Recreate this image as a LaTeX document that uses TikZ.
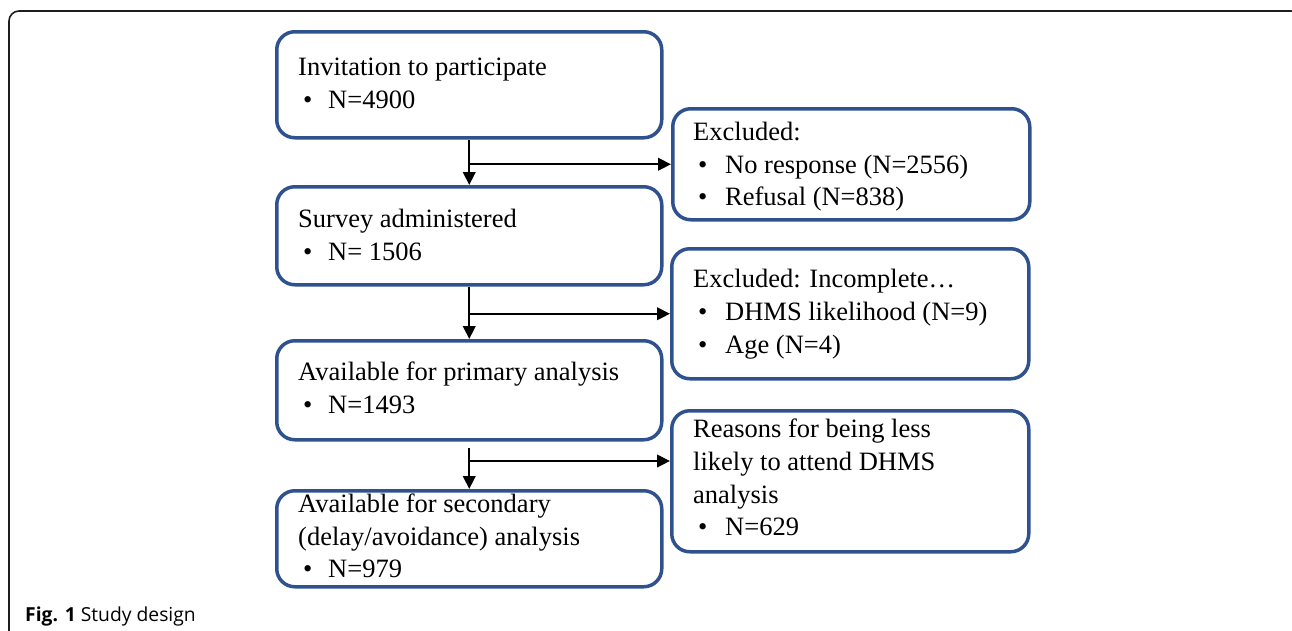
\documentclass[tikz,border=0pt]{standalone}
\usepackage{fontspec}
\setmainfont{Liberation Serif}
\newfontfamily\capfont{Open Sans}
\usetikzlibrary{arrows.meta,calc}
\definecolor{boxblue}{RGB}{47,82,143}
\definecolor{framecol}{RGB}{30,30,30}
\newcommand\bulA{\hspace*{5pt}\makebox[25pt][l]{\textbullet}}
\newcommand\bulB{\hspace*{5pt}\makebox[27pt][l]{\textbullet}}
\tikzset{
  box/.style={draw=boxblue, line width=3.5pt, rounded corners=18pt, rectangle,
    inner sep=0pt, anchor=north west, minimum width=#1},
  box/.default=385pt,
  txt/.style={anchor=base west, inner sep=0pt, font=\fontsize{26.5}{33}\selectfont},
  arr/.style={draw=black, line width=2.2pt, -{Triangle[length=13pt,width=12.5pt]}},
  framestyle/.style={draw=framecol, line width=1.6pt, rounded corners=10pt},
  captext/.style={anchor=base west, inner sep=0pt, font=\capfont\fontsize{19.3}{23}\selectfont}
}
\begin{document}
\begin{tikzpicture}[x=1pt,y=-1pt]
\useasboundingbox (0,0) rectangle (1292,630);
\clip (0,0) rectangle (1292,630);
\fill[white] (0,0) rectangle (1292,630);
\draw[framestyle] (9,660) |- (1301,11) -- (1301,660);

% left column boxes
\node[box, minimum height=106pt] (b1) at (275,30) {};
\node[box, minimum height=98pt] (b2) at (275,185) {};
\node[box, minimum height=99pt] (b3) at (275,339) {};
\node[box, minimum height=96pt] (b4) at (275,489) {};
% right column boxes
\node[box=357pt, minimum height=111pt] (r1) at (671,107) {};
\node[box=357pt, minimum height=130pt] (r2) at (670,247) {};
\node[box=357pt, minimum height=141pt] (r3) at (670,409) {};

% texts
\node[txt] (t1) at (298,75) {\parbox[t]{350pt}{Invitation to participate\\\bulA N=4900}};
\node[txt] (t2) at (298,227) {\parbox[t]{350pt}{Survey administered\\\bulA N= 1506}};
\node[txt] (t3) at (298,380) {\parbox[t]{350pt}{Available for primary analysis\\\bulA N=1493}};
\node[txt] (t4) at (298,512) {\parbox[t]{350pt}{Available for secondary\\(delay/avoidance) analysis\\[-1pt]\bulA N=979}};
\node[txt] (s1) at (693,140) {\parbox[t]{330pt}{Excluded:\\\bulB No response (N=2556)\\[-1pt]\bulB Refusal (N=838)}};
\node[txt] (s2) at (693,287) {\parbox[t]{330pt}{Excluded: Incomplete\ldots\\\bulB DHMS likelihood (N=9)\\\bulB Age (N=4)}};
\node[txt] (s3) at (693,437) {\parbox[t]{330pt}{Reasons for being less\\likely to attend DHMS\\analysis\\[-1pt]\bulB N=629}};

% connectors
\draw[arr] (b1.south) -- (b2.north);
\draw[arr] (b1.south |- r1.west) -- (r1.west);
\draw[arr] (b2.south) -- (b3.north);
\draw[arr] (b2.south |- r2.west) -- (r2.west);
\coordinate (c3) at (b3.south |- 0,448);
\coordinate (h3) at (b3.south |- 0,461);
\draw[arr] (c3) -- (b4.north);
\draw[arr] (h3) -- (h3 -| r3.west);

% caption
\node[captext] (cap) at (25,621) {{\bfseries Fig. 1} Study design};
\end{tikzpicture}
\end{document}
